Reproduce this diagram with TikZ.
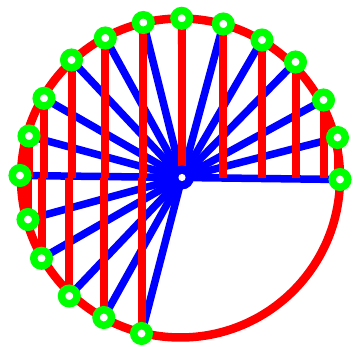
\documentclass[tikz,border=0pt]{standalone}
\definecolor{pureRed}{RGB}{255,0,0}
\definecolor{pureBlue}{RGB}{0,0,255}
\definecolor{pureGreen}{RGB}{0,255,0}
\tikzset{
  rim/.style={draw=pureRed, line width=8.5pt},
  spoke/.style={draw=pureBlue, line width=7.5pt},
  drop/.style={draw=pureRed, line width=8pt},
  hub/.style={fill=pureBlue},
  hubdot/.style={fill=white},
  ring/.style={circle, draw=pureGreen, line width=7.5pt, fill=white, minimum size=15.5pt, inner sep=0pt}
}
\begin{document}
\begin{tikzpicture}[x=1pt,y=-1pt]
\useasboundingbox (0,0) rectangle (354,347);
\coordinate (c) at (182,177.5);
\coordinate (o) at (180.5,178);
\foreach \n/\x/\y in {0/340/179.5, 1/337.5/137.5, 2/323.5/100, 3/295.5/62, 4/262/40, 5/223.3/24,
  6/181.7/18.3, 7/143.3/22.5, 8/105.3/38, 9/71.5/60, 10/44/98.3, 11/29/136, 12/20/175.5,
  13/28/219.5, 14/41.5/258.3, 15/69.3/296, 16/103.8/317.5, 17/141.5/333.5}{
  \coordinate (p\n) at (\x,\y);
  \coordinate (f\n) at (\x,178);
}
% rim
\draw[rim] (o) circle[radius=159.5pt];
% spokes
\foreach \n in {0,...,17}{\draw[spoke] (c) -- (p\n);}
% vertical drops
\foreach \n in {1,...,11,13,14,15,16,17}{\draw[drop] (p\n) -- (f\n);}
% hub
\fill[hub] (c) circle[radius=12pt];
\fill[hubdot] (c) circle[radius=3.6pt];
% rings
\foreach \n in {0,...,17}{\node[ring] (g\n) at (p\n) {};}
\end{tikzpicture}
\end{document}
